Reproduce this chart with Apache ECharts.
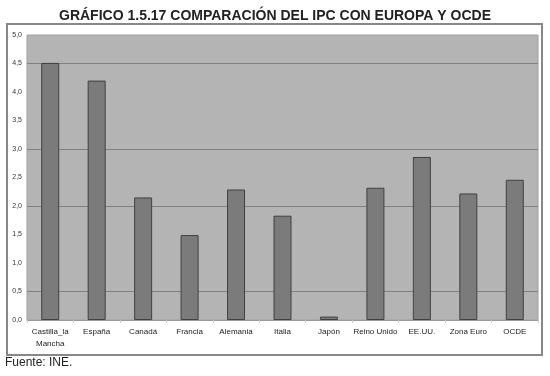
<!DOCTYPE html>
<html lang="es">
<head>
    <meta charset="UTF-8">
    <title>IPC Europa y OCDE</title>
    <script src="https://cdn.jsdelivr.net/npm/echarts@6/dist/echarts.min.js"></script>
    <style>
        html, body { margin: 0; padding: 0; background: #fff; }
    </style>
</head>
<body>
    <div id="main" style="width: 550px;height:376px;"></div>
    <script type="text/javascript">
        // datos
        var categorias = ['Castilla_la\nMancha', 'España', 'Canadá', 'Francia', 'Alemania', 'Italia',
            'Japón', 'Reino Unido', 'EE.UU.', 'Zona Euro', 'OCDE'];
        var valores = [4.51, 4.2, 2.15, 1.49, 2.29, 1.83, 0.06, 2.32, 2.86, 2.22, 2.46];
        // líneas de división que se ven en el original
        var lineasVisibles = [0.5, 2.0, 3.0, 4.5];

        var myChart = echarts.init(document.getElementById('main'));

        var option = {
            animation: false,
            textStyle: { fontFamily: 'Liberation Sans, Arial, sans-serif' },
            title: {
                text: 'GRÁFICO 1.5.17 COMPARACIÓN DEL IPC CON EUROPA Y OCDE',
                left: 'center',
                top: 4,
                textStyle: { fontSize: 14, fontWeight: 'bold', color: '#222' }
            },
            graphic: [
                {
                    type: 'rect',
                    shape: { x: 7, y: 24, width: 535, height: 331 },
                    style: { fill: 'none', stroke: '#888', lineWidth: 2 },
                    z: -1
                },
                {
                    type: 'text',
                    left: 5,
                    top: 357,
                    style: { text: 'Fuente: INE.', fontSize: 12, fill: '#222', fontFamily: 'Liberation Sans, Arial, sans-serif' }
                }
            ],
            grid: {
                left: 27,
                right: 12,
                top: 35,
                bottom: 56,
                show: true,
                backgroundColor: '#b4b4b4',
                borderColor: '#a0a0a0',
                borderWidth: 1
            },
            xAxis: {
                type: 'category',
                data: categorias,
                axisLine: { lineStyle: { color: '#999' } },
                axisTick: { show: true, length: 3, lineStyle: { color: '#ccc' } },
                axisLabel: { fontSize: 8, color: '#222', margin: 6, lineHeight: 12, interval: 0 }
            },
            yAxis: {
                type: 'value',
                min: 0,
                max: 5,
                interval: 0.5,
                axisLine: { show: false },
                axisTick: { show: false },
                splitLine: { show: false },
                axisLabel: {
                    fontSize: 7,
                    color: '#333',
                    margin: 5,
                    formatter: function (v) { return v.toFixed(1).replace('.', ','); }
                }
            },
            series: [
                {
                    type: 'bar',
                    data: valores,
                    barWidth: 18,
                    itemStyle: { color: '#7b7b7b', borderColor: '#404040', borderWidth: 1 },
                    markLine: {
                        silent: true,
                        symbol: 'none',
                        label: { show: false },
                        lineStyle: { color: '#808080', type: 'solid', width: 1 },
                        z: 1,
                        data: lineasVisibles.map(function (v) { return { yAxis: v }; })
                    },
                    z: 2
                }
            ]
        };

        myChart.setOption(option);
    </script>
</body>
</html>
